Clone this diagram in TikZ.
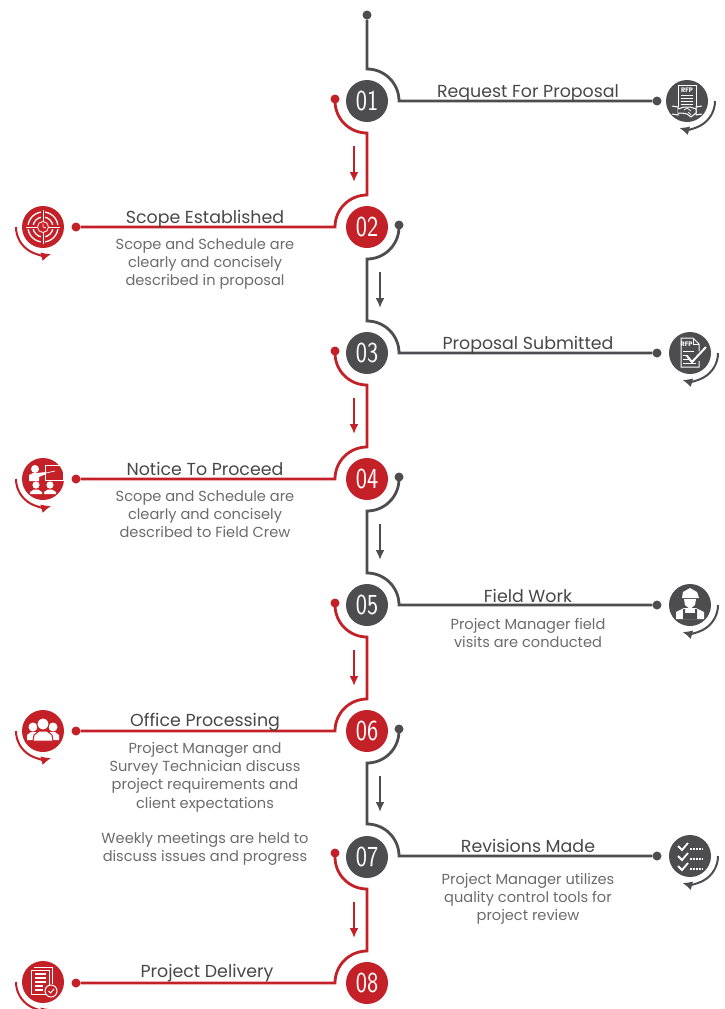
\documentclass[tikz,border=0pt]{standalone}
\usepackage{fontspec}
\usetikzlibrary{arrows.meta}
\setmainfont{Poppins}
\newfontfamily\numfont[FakeStretch=0.82]{Latin Modern Sans}
\definecolor{stepgrey}{RGB}{77,77,79}
\definecolor{stepred}{RGB}{196,32,39}
\tikzstyle{greystep} = [circle,fill=stepgrey,text=white,minimum size=42pt,inner sep=0pt,font=\numfont\fontsize{29}{29}\selectfont]
\tikzstyle{redstep} = [greystep,fill=stepred]
\tikzstyle{greydot} = [circle,fill=stepgrey,minimum size=9pt,inner sep=0pt]
\tikzstyle{reddot} = [greydot,fill=stepred]
\tikzstyle{greyicon} = [greystep]
\tikzstyle{redicon} = [redstep]
\tikzstyle{greyline} = [draw=stepgrey,line width=2.8pt]
\tikzstyle{redline} = [draw=stepred,line width=2.8pt]
\tikzstyle{greyturn} = [-{Latex[length=10pt,width=9pt]},draw=stepgrey,line width=2pt]
\tikzstyle{redturn} = [-{Latex[length=10pt,width=9pt]},draw=stepred,line width=2pt]
\tikzstyle{heading} = [anchor=base,text=black!72,font=\fontsize{17.4}{20}\selectfont]
\tikzstyle{body} = [text=black!58,align=center,font=\fontsize{14.6}{18.3}\selectfont]
\tikzstyle{glyph} = [draw=white,line width=1pt]
\begin{document}
\begin{tikzpicture}[x=1pt,y=-1pt]
	\useasboundingbox (0,0) rectangle (725,1009);

	% steps
	\node[greystep] (n1) at (367,101) {01};
	\node[redstep] (n2) at (367,227) {02};
	\node[greystep] (n3) at (367,353) {03};
	\node[redstep] (n4) at (367,479) {04};
	\node[greystep] (n5) at (367,605) {05};
	\node[redstep] (n6) at (367,731) {06};
	\node[greystep] (n7) at (367,857) {07};
	\node[redstep] (n8) at (367,983) {08};

	% icons
	\node[greyicon] (i1) at (687,101) {};
	\node[redicon] (i2) at (43,227) {};
	\node[greyicon] (i3) at (690,353) {};
	\node[redicon] (i4) at (43,479) {};
	\node[greyicon] (i5) at (690,605) {};
	\node[redicon] (i6) at (43,731) {};
	\node[greyicon] (i7) at (690,856) {};
	\node[redicon] (i8) at (43,982) {};

	% dots
	\node[greydot] (d0) at (367,15) {};
	\node[greydot] (e1) at (657,101) {};
	\node[reddot] (d1) at (335,99) {};
	\node[reddot] (e2) at (76,227) {};
	\node[greydot] (d2) at (399,225) {};
	\node[greydot] (e3) at (657,353) {};
	\node[reddot] (d3) at (335,351) {};
	\node[reddot] (e4) at (76,479) {};
	\node[greydot] (d4) at (399,477) {};
	\node[greydot] (e5) at (657,605) {};
	\node[reddot] (d5) at (335,603) {};
	\node[reddot] (e6) at (76,731) {};
	\node[greydot] (d6) at (399,729) {};
	\node[greydot] (e7) at (657,856) {};
	\node[reddot] (d7) at (335,853) {};
	\node[reddot] (e8) at (76,983) {};

	% line bends
	\coordinate (t1) at (367,69);
	\coordinate (b1) at (335,101);
	\coordinate (t2) at (367,195);
	\coordinate (b2) at (399,227);
	\coordinate (t3) at (367,321);
	\coordinate (b3) at (335,353);
	\coordinate (t4) at (367,447);
	\coordinate (b4) at (399,479);
	\coordinate (t5) at (367,573);
	\coordinate (b5) at (335,605);
	\coordinate (t6) at (367,699);
	\coordinate (b6) at (399,731);
	\coordinate (t7) at (367,824);
	\coordinate (b7) at (335,857);
	\coordinate (t8) at (367,951);

	\draw[greyline] (d0) -- (t1) arc[start angle=90,end angle=0,radius=32pt] -- (e1);
	\draw[redline] (d1) -- (b1) arc[start angle=180,end angle=270,radius=32pt] -- (t2) arc[start angle=90,end angle=180,radius=32pt] -- (e2);
	\draw[greyline] (d2) -- (b2) arc[start angle=0,end angle=-90,radius=32pt] -- (t3) arc[start angle=90,end angle=0,radius=32pt] -- (e3);
	\draw[redline] (d3) -- (b3) arc[start angle=180,end angle=270,radius=32pt] -- (t4) arc[start angle=90,end angle=180,radius=32pt] -- (e4);
	\draw[greyline] (d4) -- (b4) arc[start angle=0,end angle=-90,radius=32pt] -- (t5) arc[start angle=90,end angle=0,radius=32pt] -- (e5);
	\draw[redline] (d5) -- (b5) arc[start angle=180,end angle=270,radius=32pt] -- (t6) arc[start angle=90,end angle=180,radius=32pt] -- (e6);
	\draw[greyline] (d6) -- (b6) arc[start angle=0,end angle=-90,radius=32pt] -- (t7) arc[start angle=90,end angle=0,radius=32pt] -- (e7);
	\draw[redline] (d7) -- (b7) arc[start angle=180,end angle=270,radius=32pt] -- (t8) arc[start angle=90,end angle=180,radius=32pt] -- (e8);

	% small arrows
	\coordinate (s1) at (354,146); \coordinate (f1) at (354,182);
	\coordinate (s2) at (380,272); \coordinate (f2) at (380,308);
	\coordinate (s3) at (354,398); \coordinate (f3) at (354,434);
	\coordinate (s4) at (380,524); \coordinate (f4) at (380,560);
	\coordinate (s5) at (354,650); \coordinate (f5) at (354,686);
	\coordinate (s6) at (380,776); \coordinate (f6) at (380,812);
	\coordinate (s7) at (354,902); \coordinate (f7) at (354,938);
	\draw[redturn] (s1) -- (f1);
	\draw[greyturn] (s2) -- (f2);
	\draw[redturn] (s3) -- (f3);
	\draw[greyturn] (s4) -- (f4);
	\draw[redturn] (s5) -- (f5);
	\draw[greyturn] (s6) -- (f6);
	\draw[redturn] (s7) -- (f7);

	% arrows round the icons
	\coordinate (r1) at (715,101);
	\coordinate (l2) at (16,227);
	\coordinate (r3) at (718,353);
	\coordinate (l4) at (16,479);
	\coordinate (r5) at (718,605);
	\coordinate (l6) at (16,731);
	\coordinate (r7) at (718,856);
	\coordinate (l8) at (16,982);
	\draw[greyturn] (r1) arc[start angle=0,end angle=-106,radius=28pt];
	\draw[redturn] (l2) arc[start angle=180,end angle=285,radius=28pt];
	\draw[greyturn] (r3) arc[start angle=0,end angle=-106,radius=28pt];
	\draw[redturn] (l4) arc[start angle=180,end angle=285,radius=28pt];
	\draw[greyturn] (r5) arc[start angle=0,end angle=-106,radius=28pt];
	\draw[redturn] (l6) arc[start angle=180,end angle=285,radius=28pt];
	\draw[greyturn] (r7) arc[start angle=0,end angle=-106,radius=28pt];
	\draw[redturn] (l8) arc[start angle=180,end angle=285,radius=28pt];

	% texts
	\node[heading] (h1) at (528,97) {Request For Proposal};
	\node[heading] (h2) at (205,223) {Scope Established};
	\node[body] (c2) at (205,264) {Scope and Schedule are\\clearly and concisely\\described in proposal};
	\node[heading] (h3) at (528,349) {Proposal Submitted};
	\node[heading] (h4) at (205,475) {Notice To Proceed};
	\node[body] (c4) at (205,514) {Scope and Schedule are\\clearly and concisely\\described to Field Crew};
	\node[heading] (h5) at (528,602) {Field Work};
	\node[body] (c5) at (528,633) {Project Manager field\\visits are conducted};
	\node[heading] (h6) at (205,726) {Office Processing};
	\node[body] (c6) at (205,777) {Project Manager and\\Survey Technician discuss\\project requirements and\\client expectations};
	\node[body] (w6) at (205,849) {Weekly meetings are held to\\discuss issues and progress};
	\node[heading] (h7) at (528,852) {Revisions Made};
	\node[body] (c7) at (528,899) {Project Manager utilizes\\quality control tools for\\project review};
	\node[heading] (h8) at (207,977) {Project Delivery};

	% icon 1: request and handshake
	\begin{scope}[shift={(i1)}]
		\draw[glyph] (-9,6) -- (-9,-16) -- (9,-16) -- (9,6);
		\node[text=white,inner sep=0pt,font=\bfseries\fontsize{6.5}{7}\selectfont] (rfp1) at (0,-11) {RFP};
		\draw[glyph,line width=.7pt] (-6,-6) -- (6,-6) (-6,-3) -- (6,-3) (-6,0) -- (6,0) (-6,3) -- (6,3);
		\draw[glyph] (-15,5) -- (-9,6) -- (-9,14) -- (-15,13) (15,5) -- (9,6) -- (9,14) -- (15,13);
		\draw[glyph,fill=stepgrey] (-9,8) -- (-3,6) -- (3,6) -- (9,8) -- (9,12) -- (4,16) -- (0,13) -- (-5,12) -- (-9,12);
		\draw[glyph,line width=.7pt] (-3,9) -- (0,7) -- (4,10) (1,11) -- (4,14);
	\end{scope}

	% icon 2: target
	\begin{scope}[shift={(i2)}]
		\draw[glyph,line width=1.3pt] (0,0) circle[radius=15pt] (0,0) circle[radius=10pt];
		\draw[stepred,line width=3.2pt] (-18,0) -- (18,0) (0,-18) -- (0,18);
		\draw[glyph] (-17,0) -- (17,0) (0,-17) -- (0,17);
		\draw[draw=red!15!white,fill=stepred,line width=1pt] (0,0) circle[radius=5.5pt];
		\draw[draw=red!15!white,line width=.8pt] (0,-3.5) -- (0,0) -- (3,1);
	\end{scope}

	% icon 3: proposal and tick
	\begin{scope}[shift={(i3)}]
		\draw[glyph] (9,-2) -- (9,-9) -- (3,-15) -- (-9,-15) -- (-9,14) -- (9,14) -- (9,8);
		\draw[glyph,line width=.7pt] (3,-15) -- (3,-9) -- (9,-9);
		\node[text=white,inner sep=0pt,font=\bfseries\fontsize{6.5}{7}\selectfont] (rfp3) at (-3.5,-8.5) {RFP};
		\draw[glyph,line width=.7pt] (-7,-2) -- (4,-2) (-7,2) -- (-2,2) (-7,6) -- (0,6) (-7,10) -- (6,10);
		\draw[white,line width=2pt] (-3,3) -- (2,9) -- (16,-6);
	\end{scope}

	% icon 4: presentation
	\begin{scope}[shift={(i4)}]
		\fill[white] (-8,-10) circle[radius=4pt];
		\fill[white] (-14,2) -- (-14,-4) -- (-10,-6) -- (-6,-6) -- (3,-7) -- (3,-5) -- (-4,-2) -- (-4,2) -- cycle;
		\draw[glyph] (2,-14) -- (20,-14) -- (20,1) -- (2,1) -- cycle;
		\draw[glyph,line width=.7pt] (3,-6) -- (12,-8);
		\fill[white] (-7,6) circle[radius=3.6pt] (7,6) circle[radius=3.6pt];
		\fill[white] (-13,15) -- (-13,13) -- (-9,10.5) -- (-5,10.5) -- (-1,13) -- (-1,15) -- cycle;
		\fill[white] (1,15) -- (1,13) -- (5,10.5) -- (9,10.5) -- (13,13) -- (13,15) -- cycle;
	\end{scope}

	% icon 5: field worker
	\begin{scope}[shift={(i5)}]
		\fill[white] (-8,-7) -- (-7,-13) -- (0,-17) -- (7,-13) -- (9,-7) -- cycle;
		\fill[white] (-6,-6) -- (6,-6) -- (5,0) -- (0,4) -- (-5,0) -- cycle;
		\fill[white] (-14,14) -- (-14,7) -- (-6,3) -- (6,3) -- (14,7) -- (14,14) -- cycle;
		\fill[stepgrey] (-7,14) -- (-7,4) -- (-5,4) -- (-5,8) -- (5,8) -- (5,4) -- (7,4) -- (7,14) -- cycle;
	\end{scope}

	% icon 6: group
	\begin{scope}[shift={(i6)}]
		\fill[white] (-10,-4) circle[radius=4.5pt] (10,-4) circle[radius=4.5pt];
		\fill[white] (-16,9) -- (-16,4) -- (-12,1) -- (-7,1) -- (-5,9) -- cycle;
		\fill[white] (16,9) -- (16,4) -- (12,1) -- (7,1) -- (5,9) -- cycle;
		\draw[stepred,fill=white,line width=1pt] (0,-7) circle[radius=6pt];
		\draw[stepred,fill=white,line width=1pt] (-10,10) -- (-9,4) -- (-4,0) -- (4,0) -- (9,4) -- (10,10) -- cycle;
	\end{scope}

	% icon 7: check list
	\begin{scope}[shift={(i7)}]
		\draw[white,line width=1.8pt] (-12,-10) -- (-8,-6) -- (-2,-13) (-12,0) -- (-8,4) -- (-2,-3) (-12,10) -- (-8,14) -- (-2,7);
		\draw[white,line width=1.4pt,dash pattern=on 1.6pt off 1.4pt] (0,-7) -- (13,-7) (0,3) -- (13,3) (0,13) -- (13,13);
	\end{scope}

	% icon 8: report
	\begin{scope}[shift={(i8)}]
		\draw[glyph] (-9,-15) -- (9,-15) -- (9,2);
		\draw[glyph,fill=stepred] (-12,-12) -- (6,-12) -- (6,12) -- (-12,12) -- cycle;
		\draw[white,line width=1.3pt] (-8,-8) -- (3,-8) (-8,-4) -- (3,-4) (-8,0) -- (3,0) (-8,4) -- (0,4) (-8,8) -- (0,8);
		\draw[glyph,fill=stepred] (8,9) circle[radius=6pt];
		\draw[white,line width=1pt] (5.5,9) -- (7.5,11) -- (11,7);
	\end{scope}
\end{tikzpicture}
\end{document}
